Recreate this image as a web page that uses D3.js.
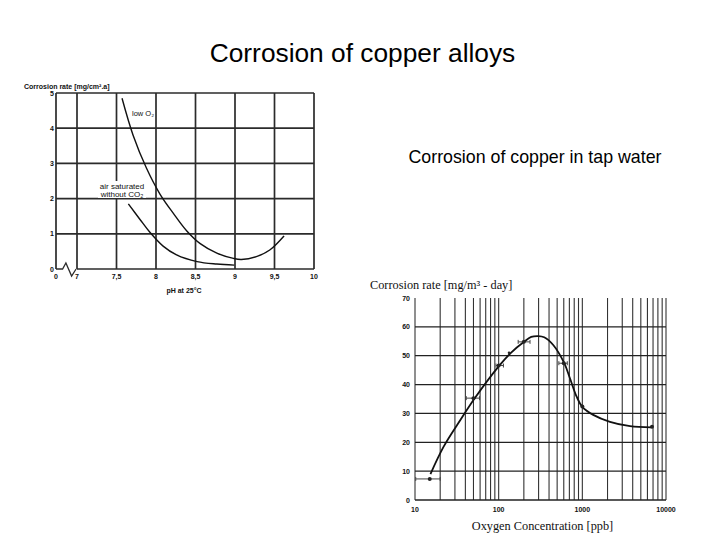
<!DOCTYPE html>
<html><head><meta charset="utf-8">
<script src="https://cdn.jsdelivr.net/npm/d3@7"></script>
<style>body{margin:0;background:#fff} svg{display:block}</style>
</head><body><svg id="c" width="720" height="540"></svg>
<script>
// ---------- data: left chart (pH) ----------
const leftXTicks = [0, 7, 7.5, 8, 8.5, 9, 9.5, 10];
const leftXTickLabels = ["0", "7", "7,5", "8", "8,5", "9", "9,5", "10"];
const leftYTicks = [0, 1, 2, 3, 4, 5];
const lowO2pH   = [7.57, 7.71, 7.88, 8.05, 8.22, 8.39, 8.56, 8.77, 8.98, 9.08, 9.27, 9.44, 9.62];
const lowO2Rate = [4.85, 3.8, 2.86, 2.13, 1.58, 1.08, 0.72, 0.45, 0.30, 0.27, 0.35, 0.54, 0.94];
const airSatpH   = [7.65, 7.8, 7.92, 8.09, 8.26, 8.52, 8.77, 8.99];
const airSatRate = [1.85, 1.4, 1.05, 0.65, 0.40, 0.21, 0.14, 0.11];

// ---------- data: right chart (oxygen) ----------
const rightXTicks = [10, 100, 1000, 10000];
const rightXTickLabels = ["10", "100", "1000", "10000"];
const rightYTicks = [0, 10, 20, 30, 40, 50, 60, 70];
const curveO2   = [15.3, 22, 35, 51, 100, 140, 205, 245, 297, 350, 449, 608, 711, 855, 1000, 1350, 2140, 3720, 6700];
const curveRate = [9, 18.5, 27.8, 35, 46.3, 51, 55, 56.5, 56.8, 56.4, 53.7, 47.4, 42.2, 35.8, 32.3, 29.5, 27.1, 25.6, 25.2];
const pointO2   = [15, 50, 100, 133, 200, 600, 1000, 6800];
const pointRate = [7.3, 35.3, 46.6, 51, 54.8, 47.4, 32.4, 25.4];
const errLow    = [10.2, 41, 93, null, 171, 524, null, null];
const errHigh   = [20, 59, 114, null, 237, 661, null, null];

const svg = d3.select("#c");
svg.append("rect").attr("width", 720).attr("height", 540).attr("fill", "#fff");

// ---------- titles ----------
svg.append("text").attr("x", 362.5).attr("y", 62).attr("text-anchor", "middle")
  .attr("font-family", "Liberation Sans, Arial, sans-serif").attr("font-size", 26.3)
  .attr("fill", "#000").text("Corrosion of copper alloys");
svg.append("text").attr("x", 535).attr("y", 163).attr("text-anchor", "middle")
  .attr("font-family", "Liberation Sans, Arial, sans-serif").attr("font-size", 17.8)
  .attr("fill", "#000").text("Corrosion of copper in tap water");

// ---------- left chart ----------
const xL = d3.scaleLinear().domain([0, 7, 10]).range([56, 77, 314]);
const yL = d3.scaleLinear().domain([0, 5]).range([269, 93]);
const gL = svg.append("g");
const gridCol = "#2b2b2b";

// horizontal grid lines (1..5)
gL.selectAll("line.h").data(leftYTicks.filter(d => d > 0)).enter().append("line")
  .attr("x1", xL(0)).attr("x2", xL(10)).attr("y1", d => yL(d)).attr("y2", d => yL(d))
  .attr("stroke", gridCol).attr("stroke-width", 1.7);
// vertical grid lines
gL.selectAll("line.v").data(leftXTicks).enter().append("line")
  .attr("x1", d => xL(d)).attr("x2", d => xL(d)).attr("y1", yL(0)).attr("y2", yL(5))
  .attr("stroke", gridCol).attr("stroke-width", 1.7);
// bottom axis from 7 to 10
gL.append("line").attr("x1", xL(7)).attr("x2", xL(10)).attr("y1", yL(0)).attr("y2", yL(0))
  .attr("stroke", gridCol).attr("stroke-width", 1.7);
// axis break zigzag between 0 and 7
const zz = [[0, 0], [2.2, 0], [3.3, 0.17], [5.2, -0.2], [6.7, 0]];
gL.append("path").attr("d", d3.line().x(d => xL(d[0])).y(d => yL(d[1]))(zz))
  .attr("fill", "none").attr("stroke", gridCol).attr("stroke-width", 1.3);

// curves
const lineL = d3.line().x(d => xL(d[0])).y(d => yL(d[1])).curve(d3.curveCatmullRom.alpha(0.5));
gL.append("path").attr("d", lineL(d3.zip(lowO2pH, lowO2Rate)))
  .attr("fill", "none").attr("stroke", "#111").attr("stroke-width", 1.4);
gL.append("path").attr("d", lineL(d3.zip(airSatpH, airSatRate)))
  .attr("fill", "none").attr("stroke", "#111").attr("stroke-width", 1.4);

const smallFont = "Liberation Sans, Arial, sans-serif";
// y tick labels
gL.selectAll("text.yt").data(leftYTicks).enter().append("text")
  .attr("x", 54).attr("y", d => yL(d) + 2.5).attr("text-anchor", "end")
  .attr("font-family", smallFont).attr("font-size", 7).attr("font-weight", "bold")
  .attr("fill", "#111").text(d => d);
// x tick labels
gL.selectAll("text.xt").data(leftXTicks).enter().append("text")
  .attr("x", d => xL(d)).attr("y", 279).attr("text-anchor", "middle")
  .attr("font-family", smallFont).attr("font-size", 7).attr("font-weight", "bold")
  .attr("fill", "#111").text((d, i) => leftXTickLabels[i]);
// axis titles
gL.append("text").attr("x", 24).attr("y", 89)
  .attr("font-family", smallFont).attr("font-size", 7).attr("font-weight", "bold")
  .attr("fill", "#111").text("Corrosion rate [mg/cm².a]");
gL.append("text").attr("x", 184).attr("y", 293).attr("text-anchor", "middle")
  .attr("font-family", smallFont).attr("font-size", 7).attr("font-weight", "bold")
  .attr("fill", "#111").text("pH at 25°C");
// curve labels
gL.append("text").attr("x", 132).attr("y", 116)
  .attr("font-family", smallFont).attr("font-size", 7.5)
  .attr("fill", "#111").text("low O₂");
gL.append("rect").attr("x", 98).attr("y", 181).attr("width", 48).attr("height", 17).attr("fill", "#fff");
gL.append("text").attr("x", 122).attr("y", 188.5).attr("text-anchor", "middle")
  .attr("font-family", smallFont).attr("font-size", 8)
  .attr("fill", "#111").text("air saturated");
gL.append("text").attr("x", 122).attr("y", 196.5).attr("text-anchor", "middle")
  .attr("font-family", smallFont).attr("font-size", 8)
  .attr("fill", "#111").text("without CO₂");

// ---------- right chart ----------
const xR = d3.scaleLog().domain([10, 10000]).range([415, 666]);
const yR = d3.scaleLinear().domain([0, 70]).range([500, 298]);
const gR = svg.append("g");
const logGrid = xR.ticks();
gR.selectAll("line.v").data(logGrid).enter().append("line")
  .attr("x1", d => xR(d)).attr("x2", d => xR(d)).attr("y1", yR(0)).attr("y2", yR(70))
  .attr("stroke", "#333").attr("stroke-width", 1.1);
gR.selectAll("line.h").data(rightYTicks.filter(d => d < 70)).enter().append("line")
  .attr("x1", xR(10)).attr("x2", xR(10000)).attr("y1", d => yR(d)).attr("y2", d => yR(d))
  .attr("stroke", "#222").attr("stroke-width", 1.3);

// error bars
const errData = pointO2.map((d, i) => ({ lo: errLow[i], hi: errHigh[i], y: pointRate[i] })).filter(d => d.lo != null);
gR.selectAll("line.err").data(errData).enter().append("line")
  .attr("x1", d => xR(d.lo)).attr("x2", d => xR(d.hi)).attr("y1", d => yR(d.y)).attr("y2", d => yR(d.y))
  .attr("stroke", "#444").attr("stroke-width", 1);
gR.selectAll("line.capl").data(errData).enter().append("line")
  .attr("x1", d => xR(d.lo)).attr("x2", d => xR(d.lo)).attr("y1", d => yR(d.y) - 2).attr("y2", d => yR(d.y) + 2)
  .attr("stroke", "#444").attr("stroke-width", 1);
gR.selectAll("line.caph").data(errData).enter().append("line")
  .attr("x1", d => xR(d.hi)).attr("x2", d => xR(d.hi)).attr("y1", d => yR(d.y) - 2).attr("y2", d => yR(d.y) + 2)
  .attr("stroke", "#444").attr("stroke-width", 1);

// curve
const lineR = d3.line().x(d => xR(d[0])).y(d => yR(d[1])).curve(d3.curveCatmullRom.alpha(0.5));
gR.append("path").attr("d", lineR(d3.zip(curveO2, curveRate)))
  .attr("fill", "none").attr("stroke", "#111").attr("stroke-width", 1.8);
// points
gR.selectAll("circle").data(d3.zip(pointO2, pointRate)).enter().append("circle")
  .attr("cx", d => xR(d[0])).attr("cy", d => yR(d[1])).attr("r", (d, i) => i === 3 ? 1.3 : 2)
  .attr("fill", "#222");

// tick labels
gR.selectAll("text.yt").data(rightYTicks).enter().append("text")
  .attr("x", 410).attr("y", d => yR(d) + 2.5).attr("text-anchor", "end")
  .attr("font-family", smallFont).attr("font-size", 7).attr("font-weight", "bold")
  .attr("fill", "#111").text(d => d);
gR.selectAll("text.xt").data(rightXTicks).enter().append("text")
  .attr("x", d => xR(d)).attr("y", 511.5).attr("text-anchor", "middle")
  .attr("font-family", smallFont).attr("font-size", 7).attr("font-weight", "bold")
  .attr("fill", "#111").text((d, i) => rightXTickLabels[i]);
// axis titles
const serif = "Liberation Serif, Times New Roman, serif";
gR.append("text").attr("x", 370).attr("y", 288.5)
  .attr("font-family", serif).attr("font-size", 12.3).attr("fill", "#111")
  .text("Corrosion rate [mg/m³ - day]");
gR.append("text").attr("x", 542.5).attr("y", 530).attr("text-anchor", "middle")
  .attr("font-family", serif).attr("font-size", 12.3).attr("fill", "#111")
  .text("Oxygen Concentration [ppb]");
</script></body></html>
